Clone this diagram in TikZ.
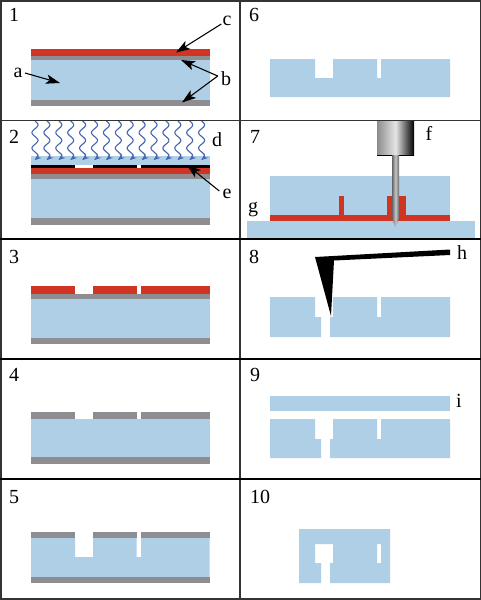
\documentclass[tikz,border=0pt]{standalone}
\usepackage{fontspec}
\setmainfont{Liberation Serif}
\usetikzlibrary{arrows.meta}
\definecolor{sib}{HTML}{AFCFE7}
\definecolor{redl}{HTML}{CF3522}
\definecolor{gryl}{HTML}{8E8E92}
\definecolor{wavec}{HTML}{4668AE}
\tikzset{
  x=0.75pt,y=-0.75pt,
  si/.style={fill=sib,draw=none},
  re/.style={fill=redl,draw=none},
  gr/.style={fill=gryl,draw=none},
  bk/.style={fill=black,draw=none},
  gridl/.style={draw=black!80,line width=0.9pt},
  num/.style={font=\fontsize{15}{17}\selectfont,inner sep=0pt,text=black},
  lab/.style={font=\fontsize{15}{17}\selectfont,inner sep=0pt,text=black},
  callout/.style={draw=black,line width=0.8pt,-{Stealth[length=10.5pt,width=7pt,inset=2.5pt]}},
}
\begin{document}
\begin{tikzpicture}
\useasboundingbox (0,0) rectangle (481,600);
\fill[white] (0,0) rectangle (481,600);
% panel 1
\fill[re] (31,49) rectangle (209.5,56);
\fill[gr] (31,56) rectangle (209.5,60);
\fill[si] (31,60) rectangle (209.5,100);
\fill[gr] (31,100) rectangle (209.5,106);
% panel 2
\fill[si] (31,156) rectangle (209.5,165);
\fill[bk] (31,164.5) rectangle (209.5,167.5);
\fill[white] (75,164.5) rectangle (93,167.5);
\fill[white] (136.5,164.5) rectangle (141,167.5);
\fill[re] (31,167.5) rectangle (209.5,174);
\fill[gr] (31,174) rectangle (209.5,179);
\fill[si] (31,179) rectangle (209.5,218);
\fill[gr] (31,218) rectangle (209.5,225);
\foreach \i in {0,...,14}{
  \pgfmathsetmacro{\xz}{35+11.9*\i}
  \draw[wavec,line width=0.85pt,-{Stealth[length=5pt,width=4pt]}] plot[domain=0:39,samples=50,smooth] ({\xz+3*sin(\x*360/15.5)},{121+\x});
}
% panel 3
\fill[re] (31,286) rectangle (75,294);
\fill[re] (93,286) rectangle (136.5,294);
\fill[re] (141,286) rectangle (209.5,294);
\fill[gr] (31,294) rectangle (209.5,299);
\fill[si] (31,299) rectangle (209.5,338);
\fill[gr] (31,338) rectangle (209.5,344);
% panel 4
\fill[gr] (31,412) rectangle (75,419);
\fill[gr] (93,412) rectangle (136.5,419);
\fill[gr] (141,412) rectangle (209.5,419);
\fill[si] (31,419) rectangle (209.5,457);
\fill[gr] (31,457) rectangle (209.5,464);
% panel 5
\fill[gr] (31,532) rectangle (75,538);
\fill[gr] (93,532) rectangle (136.5,538);
\fill[gr] (141,532) rectangle (209.5,538);
\fill[si] (31,538) -- (75,538) -- (75,557) -- (93,557) -- (93,538) -- (136.5,538) -- (136.5,557) -- (141,557) -- (141,538) -- (209.5,538) -- (209.5,577) -- (31,577) -- cycle;
\fill[gr] (31,577) rectangle (209.5,583);
% panel 6
\fill[si] (270,59) -- (315,59) -- (315,78) -- (333,78) -- (333,59) -- (377,59) -- (377,78) -- (381,78) -- (381,59) -- (450,59) -- (450,97) -- (270,97) -- cycle;
% panel 7
\fill[si] (270,176) rectangle (450,215);
\fill[si] (247,221) rectangle (475,239);
\fill[re] (270,215) rectangle (450,221);
\fill[re] (339,196) rectangle (344,215);
\fill[re] (387,196) rectangle (406,215);
\shade[left color=black!45,right color=black,middle color=black!10,draw=none] (377,120) rectangle (414,155);
\draw[black,line width=0.6pt] (377,155) -- (414,155);
\shade[left color=black!60,right color=black!60,middle color=black!22,draw=none] (392,155) -- (399,155) -- (399,218) -- (395.5,228) -- (392,218) -- cycle;
% panel 8
\fill[si] (270,297) -- (315,297) -- (315,317) -- (321,317) -- (321,337) -- (270,337) -- cycle;
\fill[si] (330,337) -- (330,317) -- (333,317) -- (333,297) -- (377,297) -- (377,317) -- (381,317) -- (381,297) -- (450,297) -- (450,337) -- cycle;
\fill[bk] (315,257) -- (450,249.5) -- (450,255) -- (334,260.5) -- (331,316) -- cycle;
% panel 9
\fill[si] (270,396) rectangle (449.5,411);
\fill[si] (270,419) -- (315,419) -- (315,439) -- (321,439) -- (321,458) -- (270,458) -- cycle;
\fill[si] (330,458) -- (330,439) -- (333,439) -- (333,419) -- (377,419) -- (377,439) -- (381,439) -- (381,419) -- (450,419) -- (450,458) -- cycle;
% panel 10
\fill[si,even odd rule] (299,529) -- (390,529) -- (390,583) -- (330,583) -- (330,563) -- (333,563) -- (333,544) -- (315,544) -- (315,563) -- (321,563) -- (321,583) -- (299,583) -- cycle (377,544) rectangle (381,563);
% grid
\draw[gridl,line width=1.5pt] (1,1) rectangle (480.5,599);
\draw[gridl] (240,0) -- (240,600);
\draw[gridl,line width=0.55pt] (0,120) -- (481,120);
\draw[gridl,black] (0,239) -- (481,239);
\draw[gridl,black] (0,359) -- (481,359);
\draw[gridl,black] (0,479) -- (481,479);
% numbers
\node[num] (n1) at (14,15) {1};
\node[num] (n2) at (14,137) {2};
\node[num] (n3) at (14,257) {3};
\node[num] (n4) at (14,375) {4};
\node[num] (n5) at (14,497) {5};
\node[num] (n6) at (254,15) {6};
\node[num] (n7) at (255,137) {7};
\node[num] (n8) at (254,257) {8};
\node[num] (n9) at (255,375) {9};
\node[num] (n10) at (260,497) {10};
% letters
\node[lab] (la) at (18,73) {a};
\node[lab] (lb) at (226,79) {b};
\node[lab] (lc) at (227,21) {c};
\node[lab] (ld) at (217,140) {d};
\node[lab] (le) at (227,194) {e};
\node[lab] (lf) at (429,133) {f};
\node[lab] (lg) at (253,210) {g};
\node[lab] (lh) at (462,253) {h};
\node[lab] (li) at (459,401) {i};
\coordinate (ta) at (60,83);
\coordinate (tc) at (176,52.5);
\coordinate (tb1) at (181,60);
\coordinate (tb2) at (182,102.5);
\coordinate (te) at (187,165);
\draw[callout] (25,73) -- (ta);
\draw[callout] (lc.west) ++(-1,3) -- (tc);
\draw[callout] (lb.west) ++(-3,-3) -- (tb1);
\draw[callout] (lb.west) ++(-3,-3) -- (tb2);
\draw[callout] (le.west) ++(-3,-3) -- (te);
\end{tikzpicture}
\end{document}
